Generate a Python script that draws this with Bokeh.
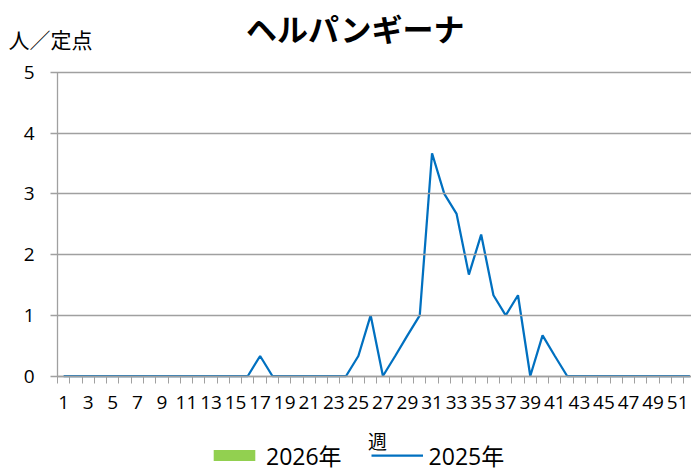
from bokeh.plotting import figure
from bokeh.models import (Range1d, FixedTicker, Label, Legend, LegendItem, ColumnDataSource)
from bokeh.embed import file_html
from bokeh.resources import INLINE

# ---- data ----
title_text = "ヘルパンギーナ"
y_title = "人／定点"
x_title = "週"
weeks = list(range(1, 53))
values_2025 = [0, 0, 0, 0, 0, 0, 0, 0, 0, 0,
               0, 0, 0, 0, 0, 0, 0.33, 0, 0, 0,
               0, 0, 0, 0, 0.33, 1.0, 0, 0.33, 0.67, 1.0,
               3.67, 3.0, 2.67, 1.67, 2.33, 1.33, 1.0, 1.33, 0, 0.67,
               0.33, 0, 0, 0, 0, 0, 0, 0, 0, 0,
               0, 0]
weeks_2026 = [1]
values_2026 = [0]
label_2026 = "2026年"
label_2025 = "2025年"
x_tick_labels = list(range(1, 53, 2))
y_ticks = [0, 1, 2, 3, 4, 5]

NUM_FONT = "'Open Sans', 'Noto Sans CJK JP'"
JP_FONT = "'Noto Sans CJK JP'"
GRAY = "#a0a0a0"

W, H = 691, 472
PX_X = 12.28   # pixels per week
PX_Y = 60.7    # pixels per unit
X0, Y0 = 57, 375.5   # pixel position of the plot area's lower-left corner

p = figure(width=W, height=H, output_backend="svg", toolbar_location=None,
           x_range=Range1d(0.5 - X0 / PX_X, 0.5 + (W - X0) / PX_X),
           y_range=Range1d(-(H - Y0) / PX_Y, Y0 / PX_Y),
           min_border=0, min_border_left=0, min_border_right=0,
           min_border_top=0, min_border_bottom=0)
p.outline_line_color = None
p.background_fill_color = "white"
p.border_fill_color = "white"
p.xgrid.visible = False
p.ygrid.visible = False

src26 = ColumnDataSource(dict(x=weeks_2026, top=values_2026))
bars = p.vbar(x="x", top="top", width=0.6, source=src26, fill_color="#92D050", line_color=None)
src25 = ColumnDataSource(dict(x=weeks, y=values_2025))
line = p.line(x="x", y="y", source=src25, line_color="#0070C0", line_width=2.25)

# axes drawn at fixed data locations inside the frame
xa = p.xaxis[0]
xa.fixed_location = 0
xa.bounds = (0.5, 52.5)
xa.ticker = FixedTicker(ticks=x_tick_labels, minor_ticks=[w + 0.5 for w in range(0, 53)])
xa.major_tick_out = 0
xa.major_tick_in = 0
xa.minor_tick_out = 7
xa.minor_tick_in = 0
xa.minor_tick_line_color = GRAY
xa.axis_line_color = GRAY
xa.axis_line_width = 1.3
xa.major_label_text_font = NUM_FONT
xa.major_label_text_font_size = "19px"
xa.major_label_text_color = "black"
xa.major_label_standoff = 13

ya = p.yaxis[0]
ya.fixed_location = 0.5
ya.bounds = (0, 5)
ya.ticker = FixedTicker(ticks=y_ticks, minor_ticks=[])
ya.major_tick_out = 7
ya.major_tick_in = W - X0          # tick marks carried across as horizontal grid lines
ya.major_tick_line_color = GRAY
ya.major_tick_line_width = 1.3
ya.axis_line_color = GRAY
ya.axis_line_width = 1.3
ya.major_label_text_font = NUM_FONT
ya.major_label_text_font_size = "19px"
ya.major_label_text_color = "black"
ya.major_label_standoff = 16

# texts
p.add_layout(Label(x=354, y=H - 27, x_units="screen", y_units="screen", text=title_text,
                   text_font=JP_FONT, text_font_size="31px", text_font_style="bold",
                   text_align="center", text_baseline="middle", text_color="black"))
p.add_layout(Label(x=8, y=H - 38, x_units="screen", y_units="screen", text=y_title,
                   text_font=JP_FONT, text_font_size="21px",
                   text_align="left", text_baseline="middle", text_color="black"))
p.add_layout(Label(x=377, y=H - 440, x_units="screen", y_units="screen", text=x_title,
                   text_font=JP_FONT, text_font_size="19px",
                   text_align="center", text_baseline="middle", text_color="black"))

legend = Legend(items=[LegendItem(label=label_2026, renderers=[bars]),
                       LegendItem(label=label_2025, renderers=[line])],
                location=(208, 0), orientation="horizontal",
                glyph_width=52, glyph_height=14, label_standoff=6, spacing=29,
                padding=0, margin=0, border_line_color=None, background_fill_alpha=0,
                label_text_font=NUM_FONT, label_text_font_size="23px", label_text_color="black")
p.add_layout(legend)

open("out.html", "w").write(file_html(p, INLINE))
